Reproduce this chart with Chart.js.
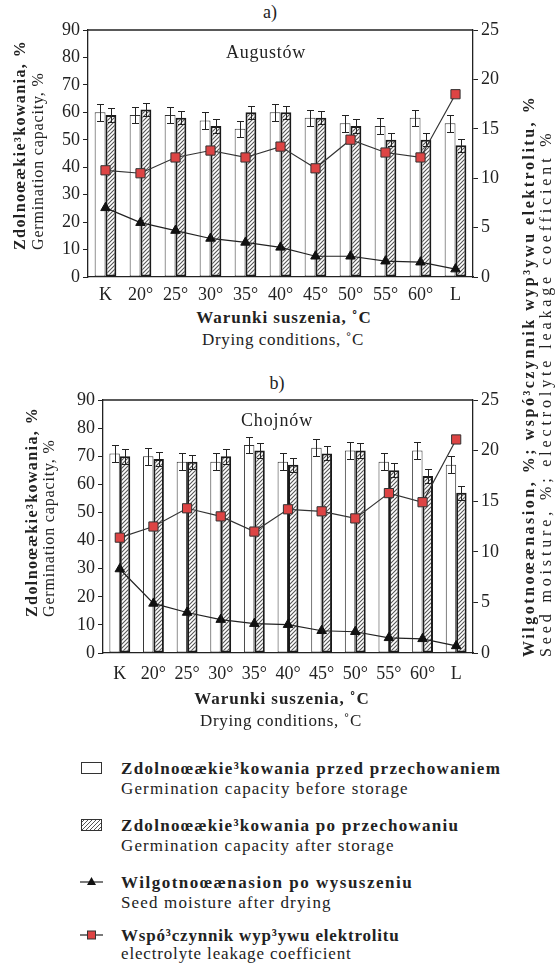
<!DOCTYPE html>
<html lang="pl">
<head>
  <meta charset="UTF-8" />
  <title>Zdolnoœækie³kowania – Augustów, Chojnów</title>
  <script src="https://cdn.jsdelivr.net/npm/chart.js"></script>
  <style>
    body { margin: 0; width: 557px; height: 963px; position: relative; background: #fff; overflow: hidden;
           font-family: "Liberation Serif", "Times New Roman", serif; color: #222; }
    canvas { position: absolute; left: 0; }
    .t { position: absolute; white-space: nowrap; transform: translate(-50%, -50%); line-height: 1; }
    .b { font-weight: bold; }
    /* rotated line: left/top = left edge of the line box and the point where the text starts (bottom) */
    .rot { position: absolute; white-space: nowrap; line-height: 18px; height: 18px; transform-origin: 0 0; transform: rotate(-90deg); }
    .leg { position: absolute; left: 121px; white-space: nowrap; line-height: 1; transform: translateY(-50%); }
    .icon { position: absolute; left: 79px; }
  </style>
</head>
<body>
  <!-- chart a -->
  <div class="t" style="left:270px; top:12px; font-size:18px;">a)</div>
  <canvas id="chartA" width="525" height="305" style="top:0;"></canvas>
  <div class="t" style="left:266px; top:52px; font-size:18px;" data-fit="80">Augustów</div>
  <div class="t b" style="left:284px; top:317px; font-size:17px;" data-fit="175">Warunki suszenia, ˚C</div>
  <div class="t" style="left:283px; top:339px; font-size:17px;" data-fit="162">Drying conditions, ˚C</div>
  <div class="rot b" style="left:11px; top:250px; font-size:16px;" data-fit="210">Zdolnoœækie³kowania, %</div>
  <div class="rot" style="left:29px; top:250px; font-size:16px;" data-fit="177">Germination capacity, %</div>

  <!-- chart b -->
  <div class="t" style="left:277px; top:383px; font-size:18px;">b)</div>
  <canvas id="chartB" width="525" height="320" style="top:370px;"></canvas>
  <div class="t" style="left:277px; top:420px; font-size:18px;" data-fit="72">Chojnów</div>
  <div class="t b" style="left:282px; top:698px; font-size:17px;" data-fit="175">Warunki suszenia, ˚C</div>
  <div class="t" style="left:281px; top:720px; font-size:17px;" data-fit="162">Drying conditions, ˚C</div>
  <div class="rot b" style="left:23px; top:617px; font-size:16px;" data-fit="210">Zdolnoœækie³kowania, %</div>
  <div class="rot" style="left:40px; top:617px; font-size:16px;" data-fit="177">Germination capacity, %</div>

  <!-- right axis title shared by both charts -->
  <div class="rot b" style="left:520px; top:657px; font-size:16px;" data-fit="562">Wilgotnoœænasion, %; wspó³czynnik wyp³ywu elektrolitu, %</div>
  <div class="rot" style="left:537px; top:657px; font-size:16px;" data-fit="528">Seed moisture, %; electrolyte leakage coefficient %</div>

  <!-- legend -->
  <svg class="icon" style="top:760px;" width="26" height="16"><rect x="2.5" y="2.5" width="20" height="11" fill="#fff" stroke="#333" stroke-width="1"/></svg>
  <div class="leg b" style="top:768px; font-size:17px;" data-fit="380">Zdolnoœækie³kowania przed przechowaniem</div>
  <div class="leg" style="top:788px; font-size:17px;" data-fit="288">Germination capacity before storage</div>

  <svg class="icon" style="top:817px;" width="26" height="16">
    <defs><pattern id="hp" width="4" height="4" patternUnits="userSpaceOnUse"><rect width="4" height="4" fill="#fff"/><path d="M0,4 L4,0 M-1,1 L1,-1 M3,5 L5,3" stroke="#555" stroke-width="1"/></pattern></defs>
    <rect x="2.5" y="2.5" width="20" height="11" fill="url(#hp)" stroke="#333" stroke-width="1"/></svg>
  <div class="leg b" style="top:825px; font-size:17px;" data-fit="338">Zdolnoœækie³kowania po przechowaniu</div>
  <div class="leg" style="top:845px; font-size:17px;" data-fit="274">Germination capacity after storage</div>

  <svg class="icon" style="top:874px;" width="26" height="16"><line x1="1" y1="8" x2="24" y2="8" stroke="#222" stroke-width="1.2"/><path d="M12.5,3 L17,11 L8,11 Z" fill="#111"/></svg>
  <div class="leg b" style="top:882px; font-size:17px;" data-fit="292">Wilgotnoœænasion po wysuszeniu</div>
  <div class="leg" style="top:902px; font-size:17px;" data-fit="211">Seed moisture after drying</div>

  <svg class="icon" style="top:927px;" width="26" height="16"><line x1="1" y1="8" x2="24" y2="8" stroke="#222" stroke-width="1.2"/><rect x="8.5" y="4" width="8" height="8" fill="#DD4444" stroke="#333" stroke-width="1"/></svg>
  <div class="leg b" style="top:935px; font-size:17px;" data-fit="279">Wspó³czynnik wyp³ywu elektrolitu</div>
  <div class="leg" style="top:953px; font-size:17px;" data-fit="231">electrolyte leakage coefficient</div>

  <script>
    const categories = ['K', '20°', '25°', '30°', '35°', '40°', '45°', '50°', '55°', '60°', 'L'];

    // a) Augustów
    const augBefore    = [60, 59, 59, 57, 54, 60, 58, 56, 55, 58, 56];
    const augBeforeErr = [3, 3, 3, 3, 3, 3, 3, 3, 3, 3, 3];
    const augAfter     = [59, 61, 58, 55, 60, 60, 58, 55, 50, 50, 48];
    const augAfterErr  = [2.4, 2.3, 2.4, 2.4, 2.3, 2.3, 2.4, 2.4, 2.4, 2.4, 2.4];
    const augMoisture  = [7.0, 5.5, 4.7, 3.9, 3.5, 3.0, 2.1, 2.1, 1.6, 1.5, 0.8];
    const augLeakage   = [10.8, 10.5, 12.1, 12.8, 12.1, 13.2, 11.0, 13.9, 12.6, 12.1, 18.5];

    // b) Chojnów
    const choBefore    = [71, 70, 68, 68, 74, 68, 73, 72, 68, 72, 67];
    const choBeforeErr = [3, 3, 3, 3, 3, 3, 3, 3, 3, 3, 3];
    const choAfter     = [70, 69, 68, 70, 72, 67, 71, 72, 65, 63, 57];
    const choAfterErr  = [2.6, 2.5, 2.5, 2.6, 2.6, 2.5, 2.5, 2.6, 2.5, 2.6, 2.5];
    const choMoisture  = [8.3, 4.9, 4.0, 3.3, 2.9, 2.8, 2.2, 2.1, 1.5, 1.4, 0.7];
    const choLeakage   = [11.4, 12.5, 14.3, 13.5, 12.0, 14.2, 14.0, 13.3, 15.8, 14.9, 21.1];

    // axis ranges
    const leftMin = 0, leftMax = 90, leftStep = 10;
    const rightMin = 0, rightMax = 25, rightStep = 5;

    const ink = '#222';
    const font = { family: '"Liberation Serif", "Times New Roman", serif', size: 18 };

    // stretch loosely set labels to the width they have in the figure
    document.querySelectorAll('[data-fit]').forEach(el => {
      el.style.letterSpacing = '0px';
      const natural = el.offsetWidth;
      const n = el.textContent.length;
      el.style.letterSpacing = ((+el.dataset.fit - natural) / n).toFixed(2) + 'px';
    });

    function hatchPattern() {
      const c = document.createElement('canvas');
      c.width = 4; c.height = 4;
      const g = c.getContext('2d');
      g.fillStyle = '#fff';
      g.fillRect(0, 0, 4, 4);
      g.strokeStyle = '#555';
      g.lineWidth = 1.1;
      g.beginPath();
      g.moveTo(0, 4); g.lineTo(4, 0);
      g.moveTo(-1, 1); g.lineTo(1, -1);
      g.moveTo(3, 5); g.lineTo(5, 3);
      g.stroke();
      return g.createPattern(c, 'repeat');
    }

    // whiskers on the bars, drawn right after each bar dataset
    const errorBars = {
      id: 'errorBars',
      afterDatasetDraw(chart, args) {
        const ds = chart.data.datasets[args.index];
        if (!ds.errors) return;
        const ctx = chart.ctx, y = chart.scales.y;
        ctx.save();
        ctx.strokeStyle = ink;
        ctx.lineWidth = 1;
        args.meta.data.forEach((bar, i) => {
          const v = ds.data[i], e = ds.errors[i];
          const x = Math.round(bar.x) + 0.5;
          const yTop = Math.round(y.getPixelForValue(v + e)) + 0.5;
          const yBot = Math.round(y.getPixelForValue(v - e)) + 0.5;
          ctx.beginPath();
          ctx.moveTo(x, yTop); ctx.lineTo(x, yBot);
          ctx.moveTo(x - 3.5, yTop); ctx.lineTo(x + 3.5, yTop);
          ctx.moveTo(x - 3.5, yBot); ctx.lineTo(x + 3.5, yBot);
          ctx.stroke();
        });
        ctx.restore();
      }
    };

    // top edge of the plot box
    const topFrame = {
      id: 'topFrame',
      beforeDatasetsDraw(chart) {
        const a = chart.chartArea, ctx = chart.ctx;
        ctx.save();
        ctx.strokeStyle = ink;
        ctx.lineWidth = 1.3;
        ctx.beginPath();
        ctx.moveTo(a.left, a.top); ctx.lineTo(a.right, a.top);
        ctx.stroke();
        ctx.restore();
      }
    };

    function makeChart(id, before, beforeErr, after, afterErr, moisture, leakage, box) {
      const canvas = document.getElementById(id);
      const H = canvas.height, W = canvas.width;
      return new Chart(canvas, {
        data: {
          labels: categories,
          datasets: [
            { type: 'line', label: 'Seed moisture after drying', data: moisture, yAxisID: 'y2', order: 0,
              borderColor: ink, borderWidth: 1.2, tension: 0,
              pointStyle: 'triangle', pointRadius: 5.5, pointBackgroundColor: '#111', pointBorderColor: '#111', pointBorderWidth: 1 },
            { type: 'line', label: 'electrolyte leakage coefficient', data: leakage, yAxisID: 'y2', order: 0,
              borderColor: '#333', borderWidth: 1.2, tension: 0,
              pointStyle: 'rect', pointRadius: 6.5, pointBackgroundColor: '#DD4444', pointBorderColor: '#333', pointBorderWidth: 1 },
            { type: 'bar', label: 'Germination capacity before storage', data: before, errors: beforeErr, yAxisID: 'y', order: 1,
              backgroundColor: '#fff', borderColor: '#333', borderWidth: 1, borderSkipped: false,
              categoryPercentage: 0.62, barPercentage: 1.0 },
            { type: 'bar', label: 'Germination capacity after storage', data: after, errors: afterErr, yAxisID: 'y', order: 2,
              backgroundColor: hatchPattern(), borderColor: '#1a1a1a', borderWidth: 2, borderSkipped: false,
              categoryPercentage: 0.62, barPercentage: 1.0 }
          ]
        },
        options: {
          responsive: false,
          animation: false,
          layout: { padding: { top: box.top, left: 0, right: 0, bottom: 0 } },
          plugins: { legend: { display: false }, tooltip: { enabled: false } },
          scales: {
            x: {
              grid: { display: false, drawTicks: false },
              border: { color: ink, width: 1.3 },
              ticks: { color: ink, font: font, padding: box.labelPad, maxRotation: 0, autoSkip: false },
              afterFit(s) { s.height = H - box.bottom; }
            },
            y: {
              position: 'left', min: leftMin, max: leftMax,
              grid: { drawOnChartArea: false, tickLength: 5, color: ink },
              border: { color: ink, width: 1.3 },
              ticks: { stepSize: leftStep, color: ink, font: font, padding: 3 },
              afterFit(s) { s.width = box.left; }
            },
            y2: {
              position: 'right', min: rightMin, max: rightMax,
              grid: { drawOnChartArea: false, tickLength: 5, color: ink },
              border: { color: ink, width: 1.3 },
              ticks: { stepSize: rightStep, color: ink, font: font, padding: 3 },
              afterFit(s) { s.width = W - box.right; }
            }
          }
        },
        plugins: [errorBars, topFrame]
      });
    }

    makeChart('chartA', augBefore, augBeforeErr, augAfter, augAfterErr, augMoisture, augLeakage,
      { left: 88, right: 473, top: 30, bottom: 277, labelPad: 7 });
    makeChart('chartB', choBefore, choBeforeErr, choAfter, choAfterErr, choMoisture, choLeakage,
      { left: 103, right: 473, top: 30, bottom: 283, labelPad: 10 });
  </script>
</body>
</html>
